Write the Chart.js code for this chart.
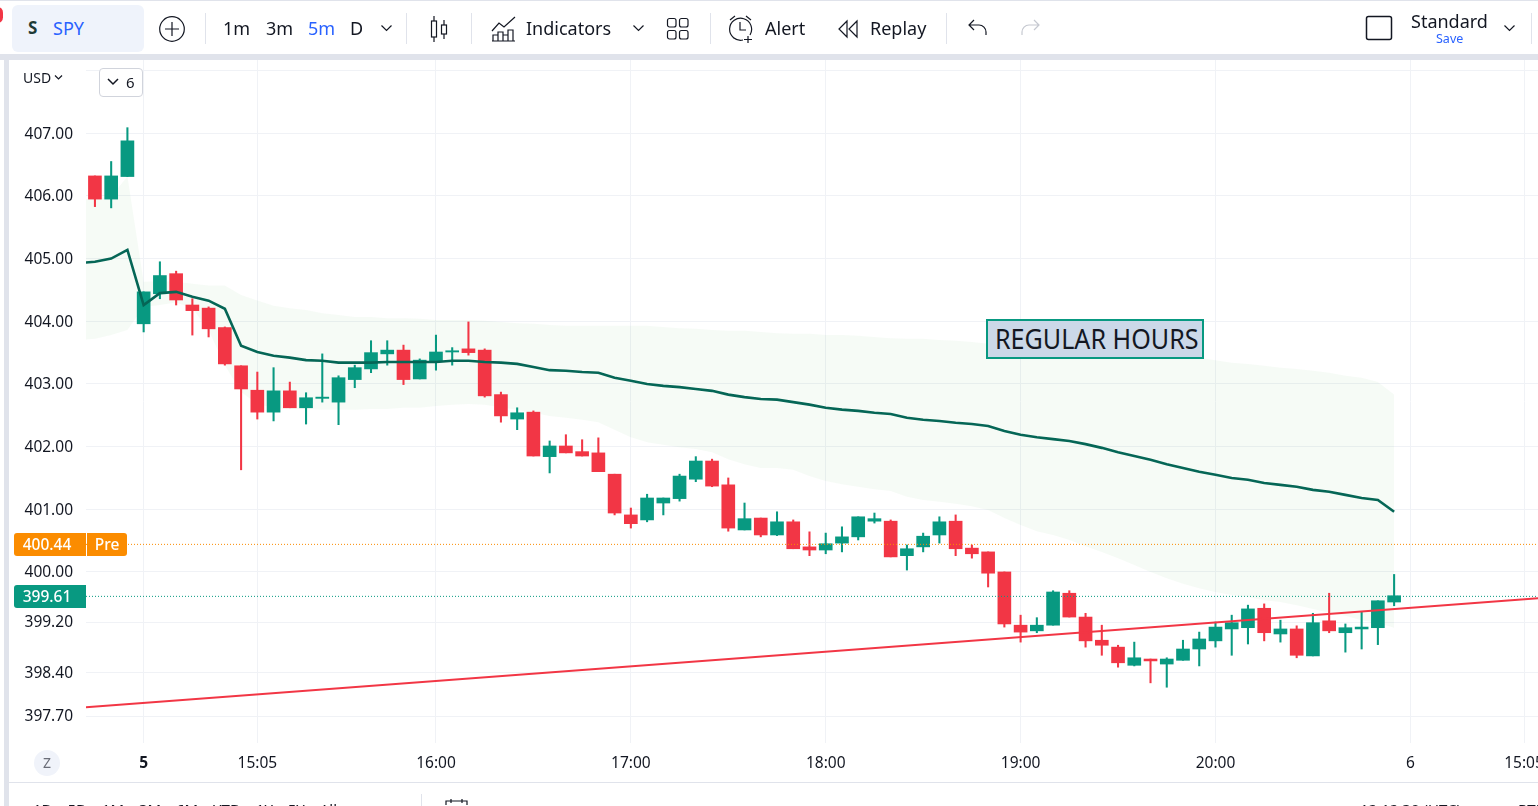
<!DOCTYPE html>
<html>
<head>
<meta charset="utf-8">
<title>SPY</title>
<script src="https://cdn.jsdelivr.net/npm/chart.js@4"></script>
<style>
html, body { margin: 0; padding: 0; background: #fff; }
body { width: 1538px; height: 806px; overflow: hidden; position: relative; font-family: "Noto Sans", sans-serif; color: #131722; }
#chart { position: absolute; left: 0; top: 0; }
.abs { position: absolute; white-space: nowrap; }
.tb { font-size: 18px; top: 15px; line-height: 26px; }
.sep { position: absolute; width: 1px; top: 13px; height: 31px; background: #e0e3eb; }
svg.abs { fill: none; stroke: #131722; stroke-width: 1.2; }
.blue { color: #2962ff; }
.frame { position: absolute; background: #e0e3eb; }
.badge { position: absolute; color: #fff; font-size: 15.5px; line-height: 23px; height: 23px; text-align: center; font-weight: 500; }
</style>
</head>
<body>
<canvas id="chart" width="1538" height="806"></canvas>

<!-- frame -->
<div class="frame" style="left:0;top:0;width:1538px;height:1px"></div>
<div class="frame" style="left:0;top:54px;width:1538px;height:6px"></div>
<div class="frame" style="left:4px;top:54px;width:5px;height:752px"></div>
<div class="frame" style="left:9px;top:782px;width:1529px;height:1px"></div>
<div class="abs" style="left:-8px;top:7px;width:11px;height:16px;border-radius:8px;background:#f23645"></div>

<!-- top toolbar -->
<div class="abs" style="left:12px;top:5px;width:132px;height:47px;background:#eff3fb;border-radius:6px"></div>
<div class="abs" style="left:28px;top:15px;font-size:17px;font-weight:700;color:#1f3b36;line-height:26px">S</div>
<div class="abs tb blue" style="left:53px">SPY</div>
<svg class="abs" style="left:158px;top:15px" width="28" height="28"><circle cx="14" cy="14" r="12.3"/><path d="M14 7v14M7 14h14"/></svg>
<div class="sep" style="left:205px"></div>
<div class="abs tb" style="left:223px">1m</div>
<div class="abs tb" style="left:266px">3m</div>
<div class="abs tb blue" style="left:308px">5m</div>
<div class="abs tb" style="left:350px">D</div>
<svg class="abs" style="left:380px;top:23px" width="13" height="10"><path d="M1.5 2.5l5 5 5-5"/></svg>
<div class="sep" style="left:406px"></div>
<svg class="abs" style="left:429px;top:15px" width="22" height="28"><path d="M5 1v5M5 22v5M15 5v5M15 19v5"/><rect x="2.5" y="6" width="5" height="16"/><rect x="12.5" y="10" width="5" height="9"/></svg>
<div class="sep" style="left:471px"></div>
<svg class="abs" style="left:491px;top:15px" width="27" height="27"><path d="M1 16l7-8 5 4 11-10"/><path d="M2 26v-6h5v6M7 26v-9h5v9M12 26v-6h5v6M17 26v-11h5v11M1 26h23"/></svg>
<div class="abs tb" style="left:526px">Indicators</div>
<svg class="abs" style="left:632px;top:23px" width="13" height="10"><path d="M1.5 2.5l5 5 5-5"/></svg>
<svg class="abs" style="left:666px;top:17px" width="24" height="24"><rect x="1.5" y="1.5" width="8.5" height="8.5" rx="2"/><rect x="13.5" y="1.5" width="8.5" height="8.5" rx="2"/><rect x="1.5" y="13.5" width="8.5" height="8.5" rx="2"/><rect x="13.5" y="13.5" width="8.5" height="8.5" rx="2"/></svg>
<div class="sep" style="left:710px"></div>
<svg class="abs" style="left:728px;top:14px" width="30" height="30"><path d="M15 26a11 11 0 1 1 7-5M12 8v8h6M2 6l5-4M18 2l5 4M20 22v7M16 25.500h8" /></svg>
<div class="abs tb" style="left:765px">Alert</div>
<svg class="abs" style="left:837px;top:19px" width="24" height="20"><path d="M10 2L2 10l8 8zM20 2l-8 8 8 8z"/></svg>
<div class="abs tb" style="left:870px">Replay</div>
<div class="sep" style="left:946px"></div>
<svg class="abs" style="left:967px;top:18px" width="22" height="20"><path d="M7 2L2 7l5 5M2 7h10a7 7 0 0 1 7 7v3"/></svg>
<svg class="abs" style="left:1019px;top:18px;stroke:#c5c8d0" width="22" height="20"><path d="M15 2l5 5-5 5M20 7H10a7 7 0 0 0-7 7v3"/></svg>
<svg class="abs" style="left:1365px;top:15px;stroke-width:1.5" width="28" height="26"><rect x="1.500" y="1.500" width="25" height="23" rx="2"/></svg>
<div class="abs" style="left:1411px;top:9px;font-size:18px;line-height:24px">Standard</div>
<div class="abs blue" style="left:1436px;top:30px;font-size:12.5px;line-height:17px">Save</div>
<svg class="abs" style="left:1503px;top:23px" width="13" height="10"><path d="M1.5 2.5l5 5 5-5"/></svg>
<div class="sep" style="left:1531px"></div>

<!-- scale controls -->
<div class="abs" style="left:23px;top:68px;font-size:14px;line-height:20px">USD</div>
<svg class="abs" style="left:54px;top:74px" width="10" height="7"><path d="M1 1.500l3.500 3.500 3.500-3.500"/></svg>
<div class="abs" style="left:99px;top:68px;width:42px;height:27px;background:#fff;border:1px solid #d1d4dc;border-radius:4px"></div>
<svg class="abs" style="left:107px;top:78px;stroke-width:1.500" width="12" height="8"><path d="M1 1l5 5 5-5"/></svg>
<div class="abs" style="left:126px;top:71px;font-size:15px;line-height:22px">6</div>

<!-- price badges -->
<div class="abs" style="left:14px;top:533px;width:72px;height:23px;background:#fb8c00;border-radius:3px 0 0 3px"></div>
<div class="badge" style="left:14px;top:533px;width:66px">400.44</div>
<div class="badge" style="left:87px;top:533px;width:40px;background:#fb8c00;border-radius:0 3px 3px 0">Pre</div>
<div class="abs" style="left:14px;top:585px;width:72px;height:23px;background:#089981;border-radius:3px 0 0 3px"></div>
<div class="badge" style="left:14px;top:585px;width:66px">399.61</div>

<div class="abs" style="left:34px;top:750px;width:26px;height:26px;border-radius:13px;background:#f0f3fa;color:#6a6d78;font-size:14px;line-height:26px;text-align:center">Z</div>

<div class="abs" style="left:986px;top:319px;width:214px;height:36px;border:2px solid #089981;background:#cbd8e8;color:#131722;font-size:27px;line-height:36px;overflow:hidden"><span style="position:absolute;left:7px;transform:scaleX(0.93);transform-origin:left center">REGULAR HOURS</span></div>

<!-- bottom toolbar, cut off by the window -->
<div class="abs" style="left:33px;top:798px;font-size:15px;line-height:22px;word-spacing:11px">1D 5D 1M 3M 6M YTD 1Y 5Y All</div>
<div class="abs" style="left:421px;top:794px;width:1px;height:12px;background:#e0e3eb"></div>
<svg class="abs" style="left:445px;top:799px" width="24" height="7"><path d="M1 6V2h21v4M6 0v4M17 0v4"/></svg>
<div class="abs" style="left:1360px;top:798px;font-size:15px;line-height:22px">12:12:30 (UTC)</div>
<div class="abs" style="left:1518px;top:798px;font-size:15px;line-height:22px">RTH</div>

<script>
// candles, 5 minute bars, index 0 is the first one on the left
const opens = [406.32,405.95,406.31,403.96,404.44,404.76,404.26,404.21,403.90,403.29,
  402.90,402.55,402.89,402.62,402.77,402.71,403.07,403.24,403.48,403.54,
  403.08,403.37,403.51,403.56,403.54,402.83,402.44,402.55,401.84,402.01,
  401.92,401.90,401.56,400.91,400.83,401.10,401.17,401.48,401.77,401.39,
  400.67,400.86,400.59,400.80,400.40,400.35,400.46,400.56,400.81,400.81,
  400.26,400.40,400.59,400.81,400.38,400.32,400.00,399.15,399.06,399.15,
  399.66,399.28,398.91,398.80,398.51,398.61,398.53,398.59,398.77,398.90,
  399.09,399.11,399.42,399.01,399.09,398.66,399.22,399.03,399.09,399.11,399.52];
const closes = [405.95,406.32,406.88,404.47,404.73,404.34,404.17,403.88,403.32,402.92,
  402.55,402.89,402.62,402.78,402.79,403.10,403.26,403.50,403.54,403.07,
  403.38,403.51,403.53,403.50,402.81,402.49,402.54,401.85,402.01,401.90,
  401.85,401.60,400.94,400.77,401.18,401.18,401.53,401.77,401.37,400.70,
  400.85,400.59,400.80,400.37,400.35,400.45,400.56,400.88,400.85,400.24,
  400.37,400.57,400.80,400.37,400.29,399.98,399.17,399.04,399.15,399.68,
  399.28,398.90,398.83,398.55,398.63,398.58,398.61,398.77,398.93,399.12,
  399.19,399.41,399.03,399.09,398.67,399.19,399.06,399.11,399.12,399.54,399.62];
const highs = [406.32,406.55,407.09,404.47,404.95,404.80,404.36,404.23,403.91,403.29,
  403.19,403.26,403.03,402.86,403.48,403.13,403.30,403.69,403.69,403.62,
  403.40,403.78,403.58,403.99,403.56,402.87,402.62,402.57,402.09,402.19,
  402.11,402.14,401.56,401.02,401.24,401.18,401.56,401.84,401.80,401.50,
  401.10,400.86,400.96,400.83,400.64,400.62,400.72,400.88,400.94,400.83,
  400.43,400.62,400.88,400.91,400.43,400.32,400.00,399.31,399.27,399.70,
  399.70,399.34,399.15,398.83,398.88,398.61,398.63,398.91,399.04,399.20,
  399.31,399.47,399.49,399.23,399.14,399.34,399.66,399.17,399.36,399.54,399.96];
const lows = [405.83,405.81,406.31,403.83,404.36,404.26,403.78,403.75,403.30,401.63,
  402.44,402.41,402.62,402.36,402.71,402.35,402.94,403.18,403.30,402.99,
  403.08,403.22,403.30,403.46,402.79,402.39,402.27,401.85,401.58,401.90,
  401.85,401.60,400.91,400.70,400.80,400.91,401.13,401.44,401.36,400.65,
  400.67,400.56,400.58,400.37,400.26,400.29,400.32,400.51,400.78,400.24,
  400.03,400.32,400.46,400.26,400.22,399.76,399.12,398.88,399.03,399.15,
  399.28,398.80,398.67,398.48,398.50,398.23,398.16,398.59,398.50,398.80,
  398.67,398.85,398.90,398.88,398.63,398.66,399.03,398.72,398.77,398.84,399.46];

// these three start one bar before the first candle, so they run off the left edge
const vwap = [404.93,404.95,405.00,405.14,404.26,404.45,404.47,404.39,404.33,404.20,403.61,
  403.51,403.45,403.42,403.38,403.37,403.34,403.34,403.34,403.35,403.35,
  403.35,403.35,403.37,403.37,403.35,403.34,403.32,403.27,403.22,403.21,
  403.19,403.18,403.10,403.05,403.00,402.97,402.95,402.92,402.89,402.83,
  402.79,402.76,402.75,402.71,402.67,402.62,402.59,402.57,402.54,402.52,
  402.46,402.43,402.41,402.38,402.36,402.33,402.25,402.19,402.15,402.12,
  402.09,402.04,401.98,401.91,401.85,401.79,401.72,401.66,401.60,401.55,
  401.50,401.47,401.42,401.39,401.36,401.31,401.28,401.23,401.18,401.15,400.96];
const bandUpper = [405.95,405.95,405.99,406.31,404.63,404.64,404.63,404.60,404.57,404.57,404.42,
  404.33,404.25,404.21,404.18,404.13,404.10,404.07,404.07,404.05,404.05,
  404.04,404.02,404.02,404.02,404.01,403.99,403.97,403.96,403.94,403.93,
  403.93,403.93,403.93,403.93,403.93,403.91,403.89,403.88,403.86,403.85,
  403.85,403.83,403.81,403.80,403.80,403.78,403.78,403.77,403.75,403.73,
  403.72,403.72,403.70,403.69,403.67,403.64,403.62,403.61,403.59,403.58,
  403.56,403.54,403.53,403.51,403.50,403.48,403.46,403.45,403.42,403.38,
  403.34,403.32,403.29,403.26,403.24,403.21,403.18,403.13,403.10,403.03,402.83];
const bandLower = [403.70,403.72,403.78,403.86,404.23,404.26,404.30,404.21,403.86,403.30,402.87,
  402.68,402.62,402.60,402.60,402.59,402.59,402.59,402.60,402.60,402.62,
  402.62,402.65,402.67,402.68,402.67,402.63,402.59,402.54,402.49,402.46,
  402.43,402.39,402.27,402.15,402.07,402.03,401.99,401.96,401.91,401.80,
  401.72,401.66,401.66,401.63,401.53,401.45,401.40,401.36,401.32,401.29,
  401.20,401.15,401.12,401.09,401.05,400.99,400.86,400.75,400.65,400.59,
  400.51,400.41,400.32,400.22,400.11,400.00,399.90,399.81,399.74,399.68,
  399.63,399.60,399.55,399.52,399.47,399.41,399.35,399.30,399.23,399.19,399.11];

const trendX = [-0.55, 88.86];
const trendY = [397.84, 399.58];
const prePrice = 400.44;
const lastPrice = 399.61;

const yTicks = [408,407,406,405,404,403,402,401,400,399.2,398.4,397.7];
const yLabels = ['','407.00','406.00','405.00','404.00','403.00','402.00','401.00','400.00','399.20','398.40','397.70'];
const xTicks = [3,10,21,33,45,57,69,81,88];
const xLabels = ['5','15:05','16:00','17:00','18:00','19:00','20:00','6','15:05'];

const GREEN = '#089981';
const RED = '#f23645';
const GRID = '#f0f2f6';

const candleColor = ctx => closes[ctx.dataIndex] >= opens[ctx.dataIndex] ? GREEN : RED;
const lineData = arr => arr.map((v, i) => ({ x: i - 1, y: v }));
const flatLine = v => [{ x: trendX[0], y: v }, { x: trendX[1], y: v }];

new Chart(document.getElementById('chart').getContext('2d'), {
    type: 'bar',
    data: {
        datasets: [
            {
                type: 'line', label: 'band upper', data: lineData(bandUpper), order: 9,
                borderWidth: 0, pointRadius: 0, tension: 0, fill: '+1',
                backgroundColor: 'rgba(76, 175, 80, 0.05)'
            },
            {
                type: 'line', label: 'band lower', data: lineData(bandLower), order: 8,
                borderWidth: 0, pointRadius: 0, tension: 0, fill: false
            },
            {
                label: 'wick', order: 6, grouped: false, barThickness: 1.4,
                data: highs.map((h, i) => ({ x: i, y: [lows[i], h] })),
                backgroundColor: candleColor
            },
            {
                label: 'body', order: 5, grouped: false, barThickness: 13,
                data: opens.map((o, i) => ({ x: i, y: [o, closes[i]] })),
                backgroundColor: candleColor
            },
            {
                type: 'line', label: 'pre', order: 4, pointRadius: 0, borderWidth: 1,
                data: flatLine(prePrice), borderColor: '#fb8c00', borderDash: [1, 2]
            },
            {
                type: 'line', label: 'last', order: 4, pointRadius: 0, borderWidth: 1,
                data: flatLine(lastPrice), borderColor: GREEN, borderDash: [1, 2]
            },
            {
                type: 'line', label: 'vwap', order: 3, pointRadius: 0, borderWidth: 2.6, tension: 0,
                data: lineData(vwap), borderColor: '#056656'
            },
            {
                type: 'line', label: 'trend', order: 2, pointRadius: 0, borderWidth: 2,
                data: trendX.map((x, i) => ({ x: x, y: trendY[i] })), borderColor: RED
            }
        ]
    },
    options: {
        responsive: false,
        animation: false,
        events: [],
        layout: { padding: { left: 0, right: 0, top: 60, bottom: 23 } },
        plugins: { legend: { display: false }, tooltip: { enabled: false } },
        scales: {
            x: {
                type: 'linear', offset: false, min: trendX[0], max: trendX[1],
                afterBuildTicks: s => { s.ticks = xTicks.map(v => ({ value: v })); },
                afterFit: s => { s.height = 40; s.paddingLeft = 0; s.paddingRight = 0; },
                border: { display: false },
                grid: { color: GRID, drawTicks: false, offset: false },
                ticks: {
                    autoSkip: false, maxRotation: 0, padding: 11, color: '#131722',
                    font: ctx => ({ family: 'Noto Sans', size: 15.5, weight: ctx.index === 0 ? '700' : '400' }),
                    callback: (v, i) => xLabels[i]
                }
            },
            y: {
                min: 397.27, max: 408.17,
                afterBuildTicks: s => { s.ticks = yTicks.map(v => ({ value: v })); },
                afterFit: s => { s.width = 86; s.paddingTop = 0; s.paddingBottom = 0; },
                border: { display: false },
                grid: { color: GRID, drawTicks: false },
                ticks: {
                    autoSkip: false, padding: 13, labelOffset: 1, color: '#131722',
                    font: { family: 'Noto Sans', size: 15.5 },
                    callback: (v, i) => yLabels[i]
                }
            }
        }
    }
});
</script>
</body>
</html>
